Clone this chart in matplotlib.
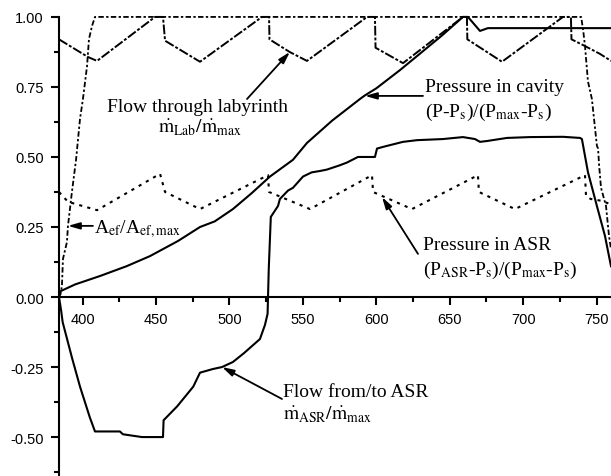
import numpy as np
import matplotlib
matplotlib.use("Agg")
import matplotlib.pyplot as plt
from matplotlib.ticker import MultipleLocator, FormatStrFormatter

plt.rcParams['font.family'] = ['Liberation Serif', 'DejaVu Serif']
plt.rcParams['mathtext.fontset'] = 'stix'
plt.rcParams['axes.unicode_minus'] = False

# flow from/to ASR (solid)
asr_flow_x = [384, 385.5, 386.5, 389.5, 393, 398.3, 405, 408.5, 425.5, 427.5, 440.5, 454.8,
              455.2, 464.5, 475.4, 480, 488.8, 495, 502.4, 510, 520.8, 524.2, 526.0, 526.8,
              528.2, 533.1, 534.4, 539.9, 543.3, 550.1, 556, 561.7, 566.4, 575, 580, 587.5,
              599.1, 600.5, 604.6, 618.2, 627.7, 645.4, 659, 667.2, 670.6, 675.4, 689, 704.6,
              727.1, 738.7, 740, 744.1, 750.2, 755.7, 759.8]
asr_flow_y = [0, -0.05, -0.09, -0.15, -0.22, -0.32, -0.43, -0.48, -0.48, -0.49, -0.50, -0.50,
              -0.44, -0.39, -0.32, -0.27, -0.257, -0.25, -0.232, -0.2, -0.15, -0.10, -0.06, 0.10,
              0.286, 0.325, 0.35, 0.38, 0.39, 0.43, 0.445, 0.45, 0.455, 0.47, 0.48, 0.50,
              0.50, 0.53, 0.536, 0.554, 0.56, 0.564, 0.571, 0.564, 0.554, 0.557, 0.568, 0.571,
              0.572, 0.568, 0.564, 0.446, 0.325, 0.218, 0.11]

# pressure in cavity (solid)
cav_x = [384, 384.7, 395, 411.9, 430, 445.9, 465, 480, 490, 502.4, 515, 527.6, 543.3, 552.8,
         570, 588.9, 592.3, 600, 616.1, 630, 645, 659, 662.4, 670.6, 676, 760]
cav_y = [0.015, 0.02, 0.045, 0.075, 0.11, 0.146, 0.2, 0.25, 0.27, 0.314, 0.37, 0.43, 0.49, 0.55,
         0.63, 0.707, 0.72, 0.745, 0.81, 0.87, 0.935, 1.0, 1.0, 0.95, 0.96, 0.96]

# flow through labyrinth (dash-dot)
lab_x = [384, 403.7, 409.9, 449.4, 454.8, 456.2, 480, 522.2, 527, 527.3, 541, 552.8, 593.7,
         599.1, 599.5, 618.2, 659, 661.7, 662, 685.6, 727.1, 732.5, 732.9, 742.1, 752.3, 759.8]
lab_y = [0.92, 0.857, 0.843, 1.0, 1.0, 0.915, 0.84, 1.0, 1.0, 0.92, 0.875, 0.843, 1.0,
         1.0, 0.89, 0.835, 1.0, 1.0, 0.92, 0.84, 1.0, 1.0, 0.92, 0.896, 0.868, 0.843]

# pressure in ASR (dotted)
pasr_x = [384, 390.1, 409.9, 452.8, 456.2, 480, 526.3, 527, 554.9, 597.1, 597.8, 624.3,
          669.2, 669.9, 694.4, 742.1, 742.8, 746, 754, 759.8]
pasr_y = [0.375, 0.34, 0.31, 0.44, 0.375, 0.314, 0.435, 0.375, 0.314, 0.435, 0.375, 0.314,
          0.435, 0.375, 0.314, 0.435, 0.36, 0.35, 0.343, 0.33]

# effective area A_ef/A_ef,max (dashed)
aef_x = [384, 385, 386, 386.7, 389.4, 390.1, 392.8, 395.6, 398.3, 400.3, 403.1, 404.4, 406.5,
         408.5, 739.5, 740.9, 742.1, 744.1, 746.8, 750.2, 751.0, 751.7, 753.0, 756.4, 758.4, 759.8]
aef_y = [0.0, 0.01, 0.04, 0.136, 0.196, 0.254, 0.375, 0.49, 0.636, 0.707, 0.825, 0.921, 0.968,
         1.0, 1.0, 0.95, 0.896, 0.77, 0.707, 0.54, 0.53, 0.47, 0.39, 0.325, 0.22, 0.17]

xlim = (384, 759.8)
ylim = (-0.639, 1.064)

fig = plt.figure(figsize=(6.11, 4.77), dpi=100)
ax = fig.add_axes([59 / 611, 0, 552 / 611, 1])

ax.plot(asr_flow_x, asr_flow_y, color='k', lw=1.5)
ax.plot(cav_x, cav_y, color='k', lw=1.5)
ax.plot(lab_x, lab_y, color='k', lw=1.4, linestyle=(0, (5, 1, 1.5, 1)))
ax.plot(pasr_x, pasr_y, color='k', lw=1.5, linestyle=(0, (1.5, 2.5)))
ax.plot(aef_x, aef_y, color='k', lw=1.3, linestyle=(0, (3, 1.3, 1.3, 1.3)))

ax.set_xlim(*xlim)
ax.set_ylim(*ylim)

# axes look: y spine on the left, x axis through zero
ax.spines['top'].set_visible(False)
ax.spines['right'].set_visible(False)
ax.spines['bottom'].set_position(('data', 0))
ax.spines['left'].set_bounds(ylim[0], 1.0)
for s in ['left', 'bottom']:
    ax.spines[s].set_linewidth(1.5)

ax.xaxis.set_major_locator(MultipleLocator(50))
ax.xaxis.set_minor_locator(MultipleLocator(25))
ax.yaxis.set_major_locator(MultipleLocator(0.25))
ax.yaxis.set_minor_locator(MultipleLocator(0.125))
ax.yaxis.set_major_formatter(FormatStrFormatter('%.2f'))
ax.set_yticks([-0.5, -0.25, 0, 0.25, 0.5, 0.75, 1.0])
ax.tick_params(which='major', direction='out', length=6, width=1.5, pad=5,
               labelsize=10.5, labelfontfamily='Liberation Sans')
ax.tick_params(which='minor', direction='out', length=3.5, width=1.5)

arr = dict(arrowstyle='-|>,head_length=0.7,head_width=0.2', color='k', lw=1.3,
           shrinkA=0, shrinkB=0)
fs = 14

# labyrinth flow label
ax.annotate('', xy=(541.2, 0.875), xytext=(512, 0.707), arrowprops=arr)
ax.text(416.7, 0.664, 'Flow through labyrinth', fontsize=fs, va='baseline')
ax.text(451.4, 0.589, r'$\dot{\mathrm{m}}_{\mathrm{Lab}}/\dot{\mathrm{m}}_{\mathrm{max}}$',
        fontsize=fs, va='baseline')

# cavity pressure label
ax.annotate('', xy=(592.3, 0.718), xytext=(631.8, 0.718), arrowprops=arr)
ax.text(633.2, 0.736, 'Pressure in cavity', fontsize=fs, va='baseline')
ax.text(633.2, 0.646, r'(P-P$_{\mathrm{s}}$)/(P$_{\mathrm{max}}$-P$_{\mathrm{s}}$)',
        fontsize=fs, va='baseline')

# ASR pressure label
ax.annotate('', xy=(603.9, 0.357), xytext=(628.4, 0.154), arrowprops=arr)
ax.text(631.8, 0.173, 'Pressure in ASR', fontsize=fs, va='baseline')
ax.text(631.8, 0.084,
        r'(P$_{\mathrm{ASR}}$-P$_{\mathrm{s}}$)/(P$_{\mathrm{max}}$-P$_{\mathrm{s}}$)',
        fontsize=fs, va='baseline')

# effective area label
ax.annotate('', xy=(390.1, 0.254), xytext=(407.1, 0.254), arrowprops=arr)
ax.text(407.6, 0.232, r'A$_{\mathrm{ef}}$/A$_{\mathrm{ef,max}}$', fontsize=fs, va='baseline')

# ASR flow label
ax.annotate('', xy=(495, -0.25), xytext=(535.8, -0.364), arrowprops=arr)
ax.text(536.5, -0.354, 'Flow from/to ASR', fontsize=fs, va='baseline')
ax.text(536.5, -0.436, r'$\dot{\mathrm{m}}_{\mathrm{ASR}}/\dot{\mathrm{m}}_{\mathrm{max}}$',
        fontsize=fs, va='baseline')

fig.savefig('out.png', dpi=100)
